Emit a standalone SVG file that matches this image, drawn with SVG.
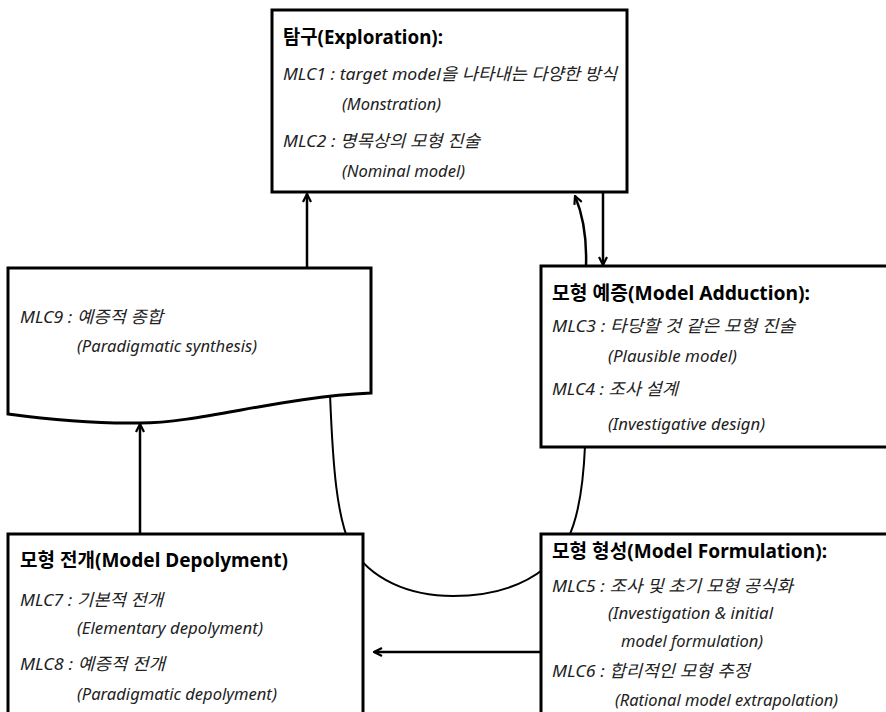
<svg xmlns="http://www.w3.org/2000/svg" width="886" height="712" viewBox="0 0 886 712">
<style>
.box{fill:#fff;stroke:#000;stroke-width:3}
.t{font-family:"Noto Sans","Noto Sans CJK KR",sans-serif;font-weight:bold;font-size:19px;fill:#000}
.i{font-family:"Noto Sans","Noto Sans CJK KR",sans-serif;font-style:italic;font-size:17px;fill:#222}
.c{fill:none;stroke:#000;stroke-width:2.5}
.l{fill:none;stroke:#000;stroke-width:2}
</style>
<defs>
<marker id="ah" viewBox="0 0 10 10" refX="9" refY="5" markerWidth="10" markerHeight="10" markerUnits="userSpaceOnUse" orient="auto">
<path d="M1,1 L9,5 L1,9" fill="none" stroke="#000" stroke-width="2.2"/>
</marker>
</defs>
<g id="connectors">
<path class="l" d="M330 394 C333 470 337 515 350 545 C370 580 410 596 453 596 C490 596 520 588 545 568 C570 548 582 515 585 446"/>
<path class="c" d="M586 266 C587 236 583 215 575 196" marker-end="url(#ah)"/>
<path class="c" d="M307 268 L307 194" marker-end="url(#ah)"/>
<path class="c" d="M603 192 L603 265" marker-end="url(#ah)"/>
<path class="c" d="M140 534 L140 424" marker-end="url(#ah)"/>
<path class="c" d="M541 652 L374 652" marker-end="url(#ah)"/>
</g>
<g id="exploration">
<rect class="box" x="272" y="10" width="355" height="182"/>
<text class="t" x="283" y="44" textLength="160" lengthAdjust="spacingAndGlyphs">탐구(Exploration):</text>
<text class="i" x="283" y="80" textLength="334" lengthAdjust="spacingAndGlyphs">MLC1 : target model을 나타내는 다양한 방식</text>
<text class="i" x="342" y="110" textLength="99" lengthAdjust="spacingAndGlyphs">(Monstration)</text>
<text class="i" x="283" y="147" textLength="197" lengthAdjust="spacingAndGlyphs">MLC2 : 명목상의 모형 진술</text>
<text class="i" x="342" y="177" textLength="123" lengthAdjust="spacingAndGlyphs">(Nominal model)</text>
</g>
<g id="synthesis">
<path class="box" d="M8 268 H371 V393 C280 397 200 423 140 423 C90 424 45 419 8 414 Z"/>
<text class="i" x="20" y="323" textLength="143" lengthAdjust="spacingAndGlyphs">MLC9 : 예증적 종합</text>
<text class="i" x="77" y="352" textLength="180" lengthAdjust="spacingAndGlyphs">(Paradigmatic synthesis)</text>
</g>
<g id="adduction">
<rect class="box" x="541" y="266" width="360" height="181"/>
<text class="t" x="552" y="300" textLength="258" lengthAdjust="spacingAndGlyphs">모형 예증(Model Adduction):</text>
<text class="i" x="552" y="332" textLength="243" lengthAdjust="spacingAndGlyphs">MLC3 : 타당할 것 같은 모형 진술</text>
<text class="i" x="608" y="362" textLength="129" lengthAdjust="spacingAndGlyphs">(Plausible model)</text>
<text class="i" x="552" y="395" textLength="126" lengthAdjust="spacingAndGlyphs">MLC4 : 조사 설계</text>
<text class="i" x="608" y="430" textLength="157" lengthAdjust="spacingAndGlyphs">(Investigative design)</text>
</g>
<g id="deployment">
<rect class="box" x="8" y="534" width="355" height="200"/>
<text class="t" x="20" y="567" textLength="268" lengthAdjust="spacingAndGlyphs">모형 전개(Model Depolyment)</text>
<text class="i" x="20" y="606" textLength="143" lengthAdjust="spacingAndGlyphs">MLC7 : 기본적 전개</text>
<text class="i" x="77" y="634" textLength="186" lengthAdjust="spacingAndGlyphs">(Elementary depolyment)</text>
<text class="i" x="20" y="670" textLength="145" lengthAdjust="spacingAndGlyphs">MLC8 : 예증적 전개</text>
<text class="i" x="77" y="700" textLength="200" lengthAdjust="spacingAndGlyphs">(Paradigmatic depolyment)</text>
</g>
<g id="formulation">
<rect class="box" x="541" y="534" width="360" height="200"/>
<text class="t" x="552" y="558" textLength="275" lengthAdjust="spacingAndGlyphs">모형 형성(Model Formulation):</text>
<text class="i" x="552" y="592" textLength="241" lengthAdjust="spacingAndGlyphs">MLC5 : 조사 및 초기 모형 공식화</text>
<text class="i" x="608" y="619" textLength="165" lengthAdjust="spacingAndGlyphs">(Investigation &amp; initial</text>
<text class="i" x="621" y="647" textLength="142" lengthAdjust="spacingAndGlyphs">model formulation)</text>
<text class="i" x="552" y="677" textLength="198" lengthAdjust="spacingAndGlyphs">MLC6 : 합리적인 모형 추정</text>
<text class="i" x="615" y="706" textLength="223" lengthAdjust="spacingAndGlyphs">(Rational model extrapolation)</text>
</g>
</svg>
